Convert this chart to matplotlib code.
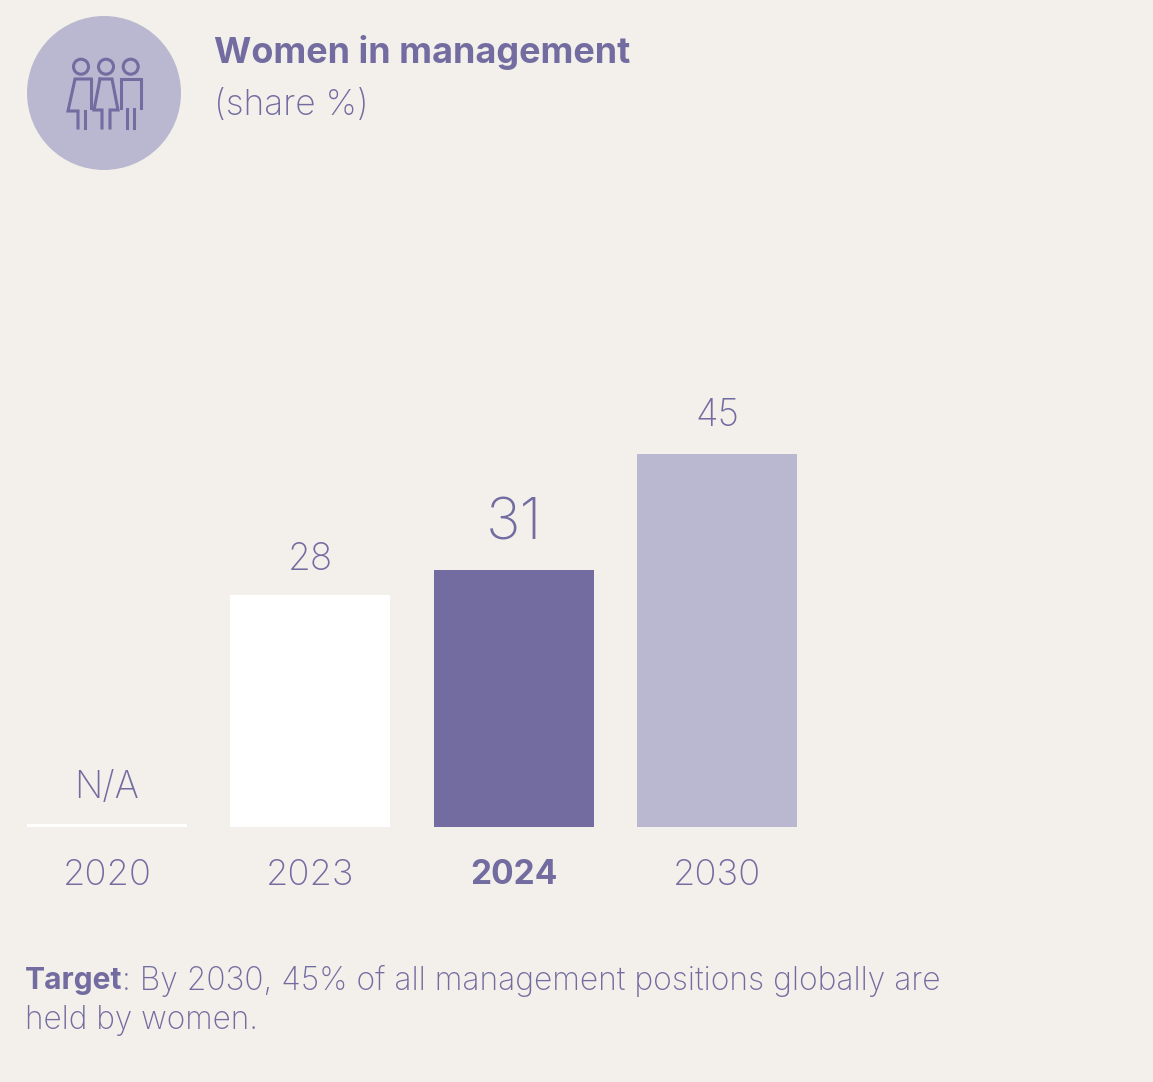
import matplotlib
matplotlib.use("Agg")
import matplotlib.pyplot as plt
from matplotlib.patches import Circle

# data
years = ["2020", "2023", "2024", "2030"]
values = [0.35, 28, 31, 45]
labels = ["N/A", "28", "31", "45"]
bar_colors = ["white", "white", "#726ca0", "#bab8d0"]

BG = "#f3f0eb"
PURPLE = "#726ca0"
W, H = 1153, 1082

plt.rcParams["font.family"] = ["Inter", "DejaVu Sans"]

fig = plt.figure(figsize=(W / 100, H / 100), dpi=100, facecolor=BG)

# px size to pt at dpi 100
def pt(px):
    return px * 0.72

# chart axes, baseline at y=827
ax = fig.add_axes([27 / W, (H - 827) / H, 770 / W, 414.5 / H])
ax.set_facecolor("none")
ax.bar(range(4), values, width=0.787, color=bar_colors)
ax.set_xlim(-0.3935, 3.3935)
ax.set_ylim(0, 50)
for s in ax.spines.values():
    s.set_visible(False)
ax.set_yticks([])
ax.set_xticks(range(4))
ax.set_xticklabels(years, fontsize=pt(36.5), color=PURPLE, fontweight="light")
ax.tick_params(axis="x", length=0, pad=23)
ax.get_xticklabels()[2].set_fontweight("bold")
ax.get_xticklabels()[2].set_fontsize(pt(33.5))

sizes = [37, 37, 58, 37]
gaps = [18, 17, 19, 20]
for i in range(4):
    ax.annotate(labels[i], (i, values[i]), xytext=(0, gaps[i] * 0.72), textcoords="offset points",
                ha="center", va="bottom", fontsize=pt(sizes[i]), color=PURPLE, fontweight="light")

# overlay in pixel coords for the header, icon and note
ov = fig.add_axes([0, 0, 1, 1])
ov.set_xlim(0, W)
ov.set_ylim(H, 0)
ov.axis("off")
ov.patch.set_alpha(0)

ov.add_patch(Circle((104, 93), 77, color="#bab8d0", lw=0))

# icon: three figures
lw = 2.2
for cx in [81, 106, 130.7]:
    ov.add_patch(Circle((cx, 66.7), 7.5, fc="none", ec=PURPLE, lw=lw))
# left woman
ov.plot([91, 75, 68, 78, 78], [79, 79, 111, 111, 128], color=PURPLE, lw=lw, solid_joinstyle="miter")
ov.plot([91, 91], [79, 108], color=PURPLE, lw=lw)
ov.plot([85, 85], [111, 128], color=PURPLE, lw=lw)
# middle woman
ov.plot([100, 94, 102, 102], [79, 110, 110, 128], color=PURPLE, lw=lw, solid_joinstyle="miter")
ov.plot([100, 112, 118, 110, 110], [79, 79, 110, 110, 128], color=PURPLE, lw=lw, solid_joinstyle="miter")
# right man
ov.plot([121, 121, 140.5, 140.5], [108, 79, 79, 108], color=PURPLE, lw=lw, solid_joinstyle="miter")
for x in [127, 134]:
    ov.plot([x, x], [109, 128], color=PURPLE, lw=lw)

ov.text(214, 53, "Women in management", fontsize=pt(36), fontweight="bold", color=PURPLE, va="center", ha="left")
ov.text(214, 106, "(share %)", fontsize=pt(35.3), fontweight="light", color=PURPLE, va="center", ha="left")

t = ov.text(25, 981, "Target", fontsize=pt(30), fontweight="bold", color=PURPLE, va="center", ha="left")
fig.canvas.draw()
bb = t.get_window_extent()
ov.text(bb.x1, 981, ": By 2030, 45% of all management positions globally are", fontsize=pt(31.8),
        fontweight="light", color=PURPLE, va="center", ha="left")
ov.text(25, 1021, "held by women.", fontsize=pt(31.5), fontweight="light", color=PURPLE, va="center", ha="left")

fig.savefig("out.png", dpi=100, facecolor=BG)
